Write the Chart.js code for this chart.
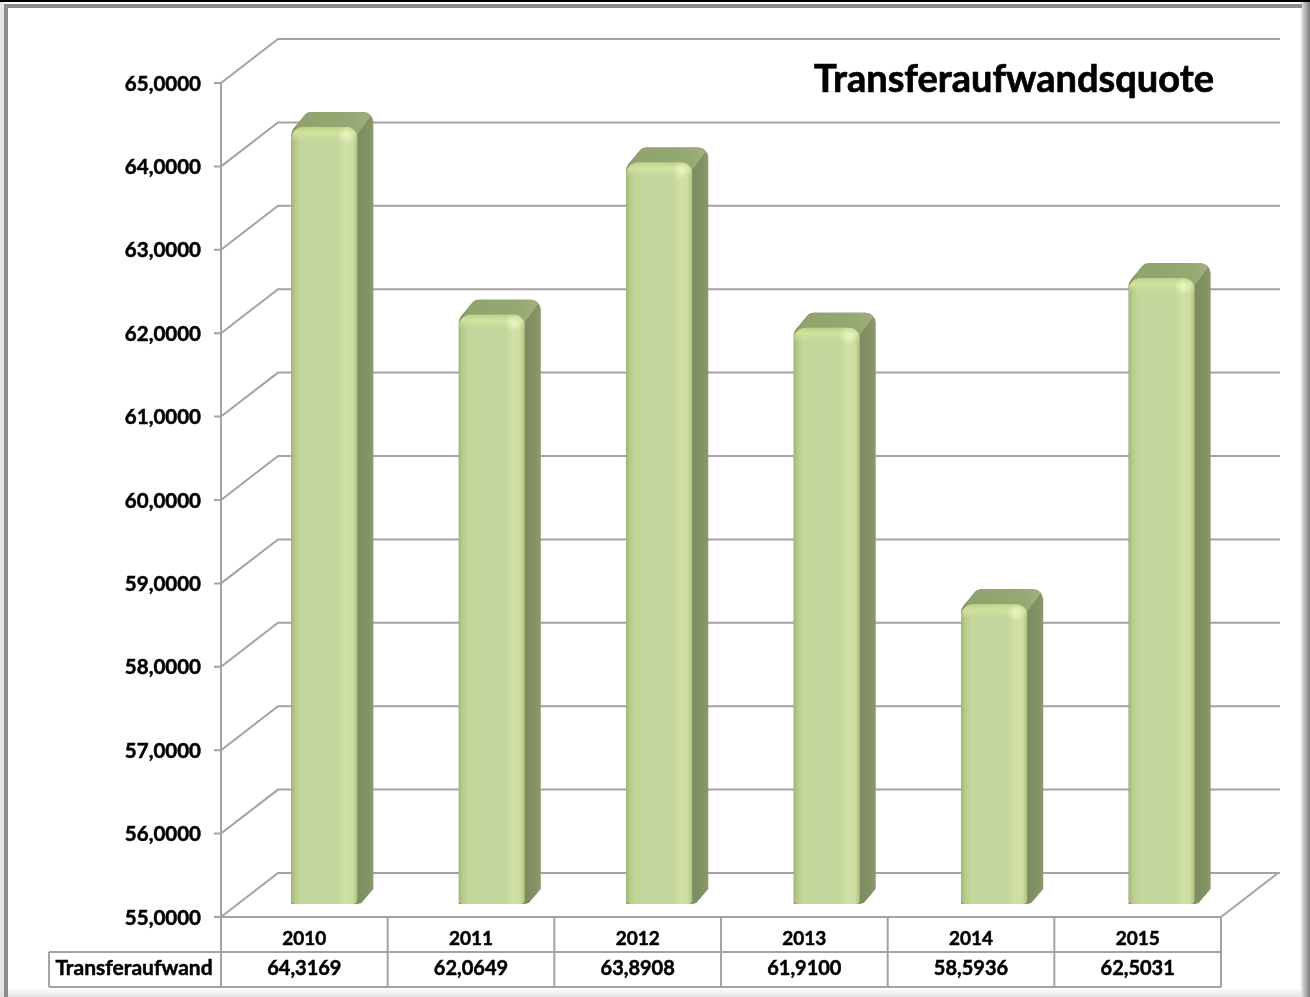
<!DOCTYPE html>
<html>
<head>
<meta charset="utf-8">
<title>Transferaufwandsquote</title>
<script src="https://cdn.jsdelivr.net/npm/chart.js@4/dist/chart.umd.min.js"></script>
<style>
  html, body { margin: 0; padding: 0; background: #fff; }
  canvas { display: block; }
</style>
</head>
<body>
<canvas id="chart" width="1310" height="997"></canvas>
<script>
// data
const years = ['2010', '2011', '2012', '2013', '2014', '2015'];
const quote = [64.3169, 62.0649, 63.8908, 61.9100, 58.5936, 62.5031];
const quoteLabels = ['64,3169', '62,0649', '63,8908', '61,9100', '58,5936', '62,5031'];
const seriesName = 'Transferaufwand';
const chartTitle = 'Transferaufwandsquote';

const FONT = 'Lato, "Open Sans", sans-serif';
const GRID = '#a3a3a3';
const DEPTH_X = 57, DEPTH_Y = 44;      // back wall offset
const BAR_DX = 20, BAR_DY = 13;        // bar sits this far into the floor
const BAR_DRIFT = 0.8;                 // bars spread a little wider than the table cells
const SIDE_X = 16, SIDE_Y = 15;        // bar depth

function line(ctx, pts) {
  ctx.beginPath();
  pts.forEach((p, i) => i ? ctx.lineTo(p[0], p[1]) : ctx.moveTo(p[0], p[1]));
  ctx.stroke();
}

function boldText(ctx, text, x, y, stroke) {
  ctx.lineWidth = stroke;
  ctx.strokeText(text, x, y);
  ctx.fillText(text, x, y);
}

// outline of the bar seen from the front right, with rounded corners
function silhouette(ctx, l, r, t, b) {
  ctx.beginPath();
  ctx.moveTo(l, b);
  ctx.arcTo(l, t + 4, l + SIDE_X, t - SIDE_Y, 10);
  ctx.arcTo(l + SIDE_X, t - SIDE_Y, r + SIDE_X, t - SIDE_Y, 9);
  ctx.arcTo(r + SIDE_X, t - SIDE_Y, r + SIDE_X, b - SIDE_Y, 10);
  ctx.lineTo(r + SIDE_X, b - SIDE_Y);
  ctx.lineTo(r + 4, b - 1);
  ctx.lineTo(r, b);
  ctx.closePath();
}

// frame, 3d walls and tick marks
const wallPlugin = {
  id: 'wall',
  beforeDatasetsDraw(chart) {
    const ctx = chart.ctx, a = chart.chartArea, y = chart.scales.y;
    const w = chart.width, h = chart.height;
    ctx.save();

    // outer shadow strips
    ctx.fillStyle = '#e6e6e6';
    ctx.fillRect(0, 0, 4, h);
    const rightGrad = ctx.createLinearGradient(1300, 0, w, 0);
    rightGrad.addColorStop(0, '#ffffff');
    rightGrad.addColorStop(0.35, '#c8c8c8');
    rightGrad.addColorStop(1, '#7c7c7c');
    ctx.fillStyle = rightGrad;
    ctx.fillRect(1300, 0, 10, h);
    const bottomGrad = ctx.createLinearGradient(0, 988, 0, h);
    bottomGrad.addColorStop(0, 'rgba(225,225,225,0)');
    bottomGrad.addColorStop(1, '#e2e2e2');
    ctx.fillStyle = bottomGrad;
    ctx.fillRect(0, 988, 1302, 9);

    ctx.fillStyle = '#8c8c8c';
    ctx.fillRect(4, 4, 1298, 4);
    ctx.fillRect(4, 4, 4, h - 4);
    ctx.fillStyle = '#000';
    ctx.fillRect(0, 0, w, 2);

    ctx.strokeStyle = GRID;
    ctx.lineWidth = 2;
    y.ticks.forEach(t => {
      const py = y.getPixelForValue(t.value);
      line(ctx, [[a.left - 7, py], [a.left, py], [a.left + DEPTH_X, py - DEPTH_Y], [a.right + DEPTH_X + 2, py - DEPTH_Y]]);
    });
    line(ctx, [[a.left, a.top], [a.left, a.bottom]]);
    // floor front edge and right edge
    line(ctx, [[a.left, a.bottom], [a.right, a.bottom], [a.right + DEPTH_X, a.bottom - DEPTH_Y]]);
    ctx.restore();
  }
};

// 3d bars, positions come from the bar elements and the y scale
const barPlugin = {
  id: 'bars3d',
  afterDatasetsDraw(chart) {
    const ctx = chart.ctx, base = chart.scales.y.bottom;
    chart.getDatasetMeta(0).data.forEach((el, i) => {
      const w = el.width;
      const l = el.x - w / 2 + BAR_DX + i * BAR_DRIFT, r = l + w;
      const t = el.y - BAR_DY, b = base - BAR_DY;
      ctx.save();

      // side
      silhouette(ctx, l, r, t, b);
      const sideGrad = ctx.createLinearGradient(r, 0, r + SIDE_X, 0);
      sideGrad.addColorStop(0, '#7d8c60');
      sideGrad.addColorStop(0.7, '#839366');
      sideGrad.addColorStop(1, '#8a9a6c');
      ctx.fillStyle = sideGrad;
      ctx.fill();

      // top
      ctx.save();
      silhouette(ctx, l, r, t, b);
      ctx.clip();
      const topGrad = ctx.createLinearGradient(l, t, r + SIDE_X, t - SIDE_Y);
      topGrad.addColorStop(0, '#8fa26a');
      topGrad.addColorStop(0.75, '#96a873');
      topGrad.addColorStop(1, '#a2b280');
      ctx.fillStyle = topGrad;
      ctx.beginPath();
      ctx.moveTo(l - 2, t + 10);
      ctx.lineTo(l + SIDE_X, t - SIDE_Y - 2);
      ctx.lineTo(r + SIDE_X + 2, t - SIDE_Y - 2);
      ctx.lineTo(r - 2, t + 10);
      ctx.closePath();
      ctx.fill();
      ctx.restore();

      // front
      const frontGrad = ctx.createLinearGradient(l, 0, r, 0);
      frontGrad.addColorStop(0, '#a5b977');
      frontGrad.addColorStop(0.07, '#bacd8c');
      frontGrad.addColorStop(0.14, '#c3d69b');
      frontGrad.addColorStop(0.7, '#c3d69b');
      frontGrad.addColorStop(0.82, '#d1e1a6');
      frontGrad.addColorStop(0.93, '#cddda0');
      frontGrad.addColorStop(1, '#aec080');
      ctx.fillStyle = frontGrad;
      ctx.beginPath();
      ctx.roundRect(l, t, w, b - t, [12, 11, 4, 4]);
      ctx.fill();

      // lighter band along the top of the front face, with the bright spot
      ctx.beginPath();
      ctx.roundRect(l, t, w, b - t, [12, 11, 4, 4]);
      ctx.clip();
      const shine = ctx.createLinearGradient(0, t, 0, t + 14);
      shine.addColorStop(0, 'rgba(190,210,135,0.9)');
      shine.addColorStop(0.4, 'rgba(210,227,160,0.95)');
      shine.addColorStop(1, 'rgba(210,227,160,0)');
      ctx.fillStyle = shine;
      ctx.fillRect(l, t, w, 14);
      const spot = ctx.createRadialGradient(r - 11, t + 8, 0, r - 11, t + 8, 9);
      spot.addColorStop(0, 'rgba(235,245,195,1)');
      spot.addColorStop(1, 'rgba(235,245,195,0)');
      ctx.fillStyle = spot;
      ctx.fillRect(r - 22, t, 22, 20);
      ctx.restore();
    });
  }
};

// data table under the chart, plus the title
const tablePlugin = {
  id: 'table',
  afterDraw(chart) {
    const ctx = chart.ctx, a = chart.chartArea, x = chart.scales.x;
    const rowY = 952, endY = 987, boxL = 49;
    ctx.save();
    ctx.strokeStyle = GRID;
    ctx.lineWidth = 2;
    line(ctx, [[boxL, rowY], [a.right, rowY]]);
    line(ctx, [[boxL, endY], [a.right, endY]]);
    line(ctx, [[boxL, rowY], [boxL, endY]]);
    line(ctx, [[a.left, a.bottom], [a.left, endY]]);
    years.forEach((yr, i) => {
      const edge = x.getPixelForValue(i) + (x.getPixelForValue(1) - x.getPixelForValue(0)) / 2;
      line(ctx, [[edge, a.bottom], [edge, endY]]);
    });

    ctx.fillStyle = '#000';
    ctx.strokeStyle = '#000';
    ctx.textBaseline = 'middle';
    ctx.textAlign = 'center';
    ctx.font = 'bold 20px ' + FONT;
    quoteLabels.forEach((v, i) => boldText(ctx, v, x.getPixelForValue(i), 969, 0.5));
    ctx.font = 'bold 21px ' + FONT;
    boldText(ctx, seriesName, 134, 968, 0.5);

    ctx.font = 'bold 38px ' + FONT;
    boldText(ctx, chartTitle, 1014, 80, 0.7);
    ctx.restore();
  }
};

new Chart(document.getElementById('chart'), {
  type: 'bar',
  data: {
    labels: years,
    datasets: [{
      label: seriesName,
      data: quote,
      backgroundColor: 'rgba(0,0,0,0)',
      barThickness: 66
    }]
  },
  options: {
    responsive: false,
    animation: false,
    layout: { padding: { left: 0, top: 83, right: 89, bottom: 0 } },
    plugins: { legend: { display: false }, title: { display: false }, tooltip: { enabled: false } },
    scales: {
      x: {
        grid: { display: false },
        border: { display: false },
        ticks: {
          color: '#000',
          textStrokeColor: '#000',
          textStrokeWidth: 0.5,
          font: { family: FONT, size: 19, weight: 'bold' },
          padding: 2,
          maxRotation: 0
        },
        afterFit(s) { s.height = 80; }
      },
      y: {
        min: 55,
        max: 65,
        grid: { display: false },
        border: { display: false },
        ticks: {
          stepSize: 1,
          color: '#000',
          textStrokeColor: '#000',
          textStrokeWidth: 0.5,
          padding: 12,
          labelOffset: 1,
          font: { family: FONT, size: 20.5, weight: 'bold' },
          callback: v => v.toFixed(4).replace('.', ',')
        },
        afterFit(s) { s.width = 221; }
      }
    }
  },
  plugins: [wallPlugin, barPlugin, tablePlugin]
});
</script>
</body>
</html>
